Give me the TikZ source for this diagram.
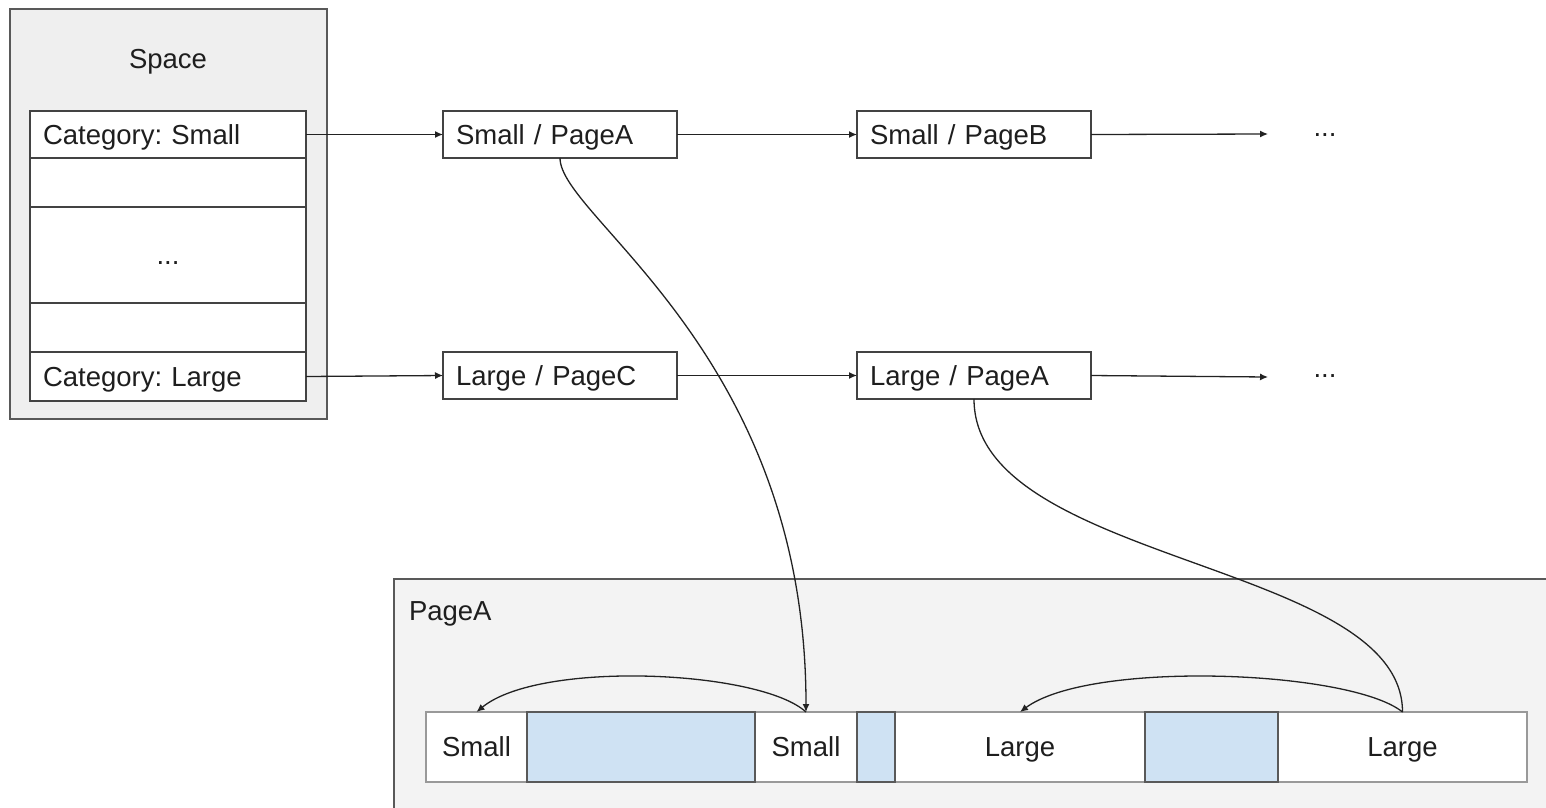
\documentclass[tikz,border=0pt]{standalone}
\usepackage{fontspec}
\setmainfont{Liberation Sans}
\usepackage{xcolor}
\definecolor{frame-line}{RGB}{89,89,89}
\definecolor{box-line}{RGB}{67,67,67}
\definecolor{space-bg}{RGB}{239,239,239}
\definecolor{page-bg}{RGB}{243,243,243}
\definecolor{slot-blue}{RGB}{207,226,243}
\definecolor{strip-line}{RGB}{153,153,153}
\definecolor{line-dark}{RGB}{34,34,34}
\definecolor{text-dark}{RGB}{30,30,30}
\usetikzlibrary{positioning,arrows.meta}
\tikzset{every node/.style={text height=23.6pt,text depth=3.9pt,outer sep=0pt,text=text-dark}}

\begin{document}
\begin{tikzpicture}[
  x=1pt, y=-1pt,
  font=\fontsize{27.5}{33}\selectfont\frenchspacing,
  frame/.style={
    rectangle,
    draw=frame-line,
    line width=1.3pt
  },
  slot/.style={
    rectangle,
    draw=box-line,
    fill=white,
    line width=1.3pt,
    text width=250pt,
    inner xsep=13pt,
    align=left
  },
  pagebox/.style={
    rectangle,
    draw=box-line,
    fill=white,
    line width=1.3pt,
    minimum height=47pt,
    text width=208pt,
    inner xsep=13pt,
    align=left
  },
  cell/.style={
    rectangle,
    minimum height=70pt,
    inner sep=0pt
  },
  used/.style={
    cell,
    fill=slot-blue,
    draw=frame-line,
    line width=1.3pt
  },
  link/.style={
    -{Latex[length=8pt,width=7pt]},
    line width=1.3pt,
    draw=line-dark
  },
  plainlink/.style={
    line width=1.3pt,
    draw=line-dark
  }
]
\useasboundingbox (0,0) rectangle (1546,807);
\clip (0,0) rectangle (1546,807);

% Space with its category slots
\node[frame, fill=space-bg, anchor=north west, minimum width=317pt, minimum height=410pt] (space) at (10,9) {};
\node (spaceTitle) at (168,59) {Space};
\node[slot, anchor=north west, minimum height=47pt] (row1) at (30,111) {Category: Small};
\node[slot, below=0pt of row1, minimum height=49pt] (row2) {};
\node[slot, below=0pt of row2, minimum height=96pt, align=center] (row3) {...};
\node[slot, below=0pt of row3, minimum height=49pt] (row4) {};
\node[slot, below=0pt of row4, minimum height=49pt] (row5) {Category: Large};

% Page lists
\node[pagebox, anchor=north west] (smallA) at (443,111) {Small / PageA};
\node[pagebox, right=180pt of smallA] (smallB) {Small / PageB};
\node[pagebox, below=194pt of smallA] (largeC) {Large / PageC};
\node[pagebox, right=180pt of largeC] (largeA) {Large / PageA};
\node (dotsS) at (1325,127) {...};
\node (dotsL) at (1325,368) {...};
\coordinate (endS) at (1268,134);
\coordinate (endL) at (1268,377);

% PageA contents
\node[frame, fill=page-bg, anchor=north west, minimum width=1180pt, minimum height=250pt] (pageA) at (394,579) {};
\node[anchor=west, inner sep=0pt] (pageTitle) at (409,611) {PageA};
\node[cell, draw=strip-line, fill=white, line width=1.3pt, anchor=north west, minimum width=1101pt] (strip) at (426,712) {};
\node[cell, anchor=north west, minimum width=101pt] (cell1) at (426,712) {Small};
\node[used, right=0pt of cell1, minimum width=228pt] (cell2) {};
\node[cell, right=0pt of cell2, minimum width=102pt] (cell3) {Small};
\node[used, right=0pt of cell3, minimum width=38pt] (cell4) {};
\node[cell, right=0pt of cell4, minimum width=250pt] (cell5) {Large};
\node[used, right=0pt of cell5, minimum width=133pt] (cell6) {};
\node[cell, right=0pt of cell6, minimum width=249pt] (cell7) {Large};

% Straight links
\draw[link] (row1.east) -- (smallA.west);
\draw[link] (row5.east) -- (largeC.west);
\draw[link] (smallA.east) -- (smallB.west);
\draw[link] (largeC.east) -- (largeA.west);
\draw[link] (smallB.east) -- (endS);
\draw[link] (largeA.east) -- (endL);

% Curved links into the page
\draw[link] (smallA.south) .. controls +(0,60) and +(0,-360) .. (cell3.north);
\draw[plainlink] (largeA.south) .. controls +(0,165) and +(0,-151) .. (cell7.north);
\draw[link] (cell3.north) .. controls +(-46,-42) and +(63,-52) .. (cell1.north);
\draw[link] (cell7.north) .. controls +(-52,-42) and +(70,-52) .. (cell5.north);

\end{tikzpicture}
\end{document}
